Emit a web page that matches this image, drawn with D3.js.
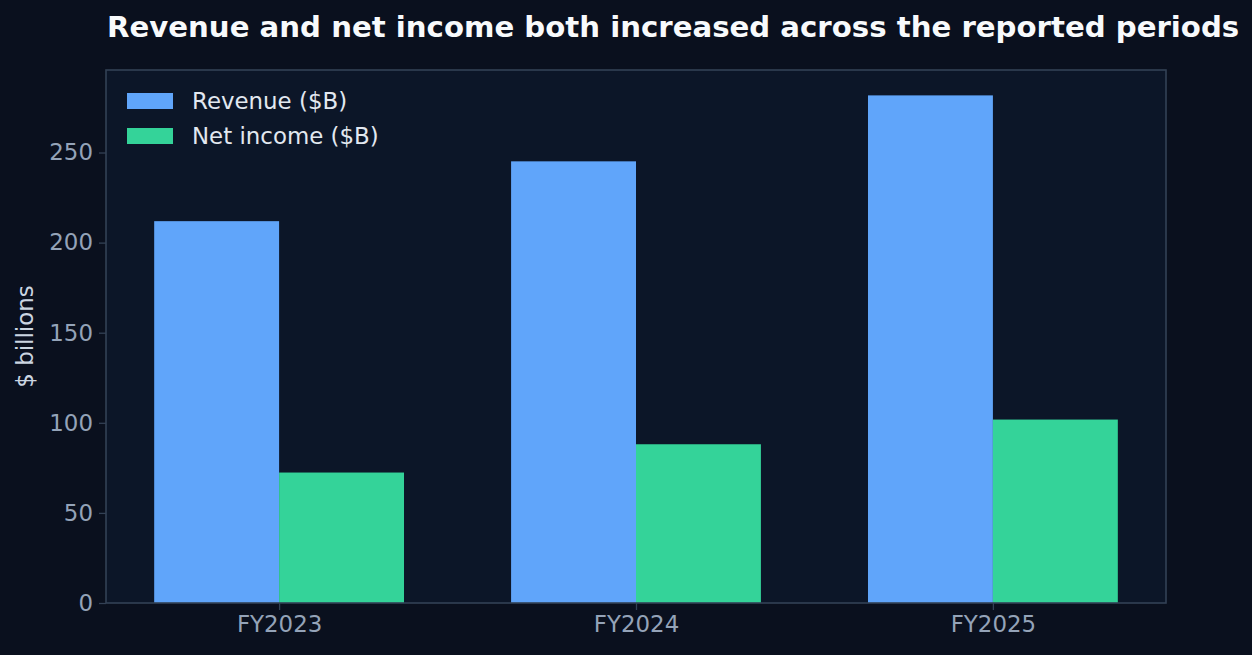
<!DOCTYPE html>
<html><head><meta charset="utf-8">
<script src="https://cdn.jsdelivr.net/npm/d3@7"></script>
<style>html,body{margin:0;padding:0;background:#0a101e;}svg{display:block;}</style>
</head><body>
<svg id="c" width="1252" height="655"></svg>
<script>
const categories = ["FY2023", "FY2024", "FY2025"];
const seriesNames = ["Revenue ($B)", "Net income ($B)"];
const revenue = [211.9, 245.1, 281.7];
const netIncome = [72.4, 88.1, 101.8];
const yTicks = [0, 50, 100, 150, 200, 250];
const title = "Revenue and net income both increased across the reported periods";
const yLabel = "$ billions";

const colors = ["#60a5fa", "#34d399"];
const W = 1252, H = 655;
const m = {left: 106, right: 1166, top: 70, bottom: 603};
const svg = d3.select("#c");
svg.append("rect").attr("width", W).attr("height", H).attr("fill", "#0a101e");
svg.append("rect").attr("x", m.left).attr("y", m.top).attr("width", m.right - m.left).attr("height", m.bottom - m.top).attr("fill", "#0c1628");

const series = [revenue, netIncome];
const barW = 0.35;
const maxV = d3.max(series.flat());
const x = d3.scaleLinear().domain([-0.485, categories.length - 1 + 0.485]).range([m.left, m.right]);
const y = d3.scaleLinear().domain([0, maxV * 1.05]).range([m.bottom, m.top]);

series.forEach((vals, si) => {
  svg.append("g").selectAll("rect").data(vals).join("rect")
    .attr("x", (d, i) => x(i + (si - 1) * barW))
    .attr("width", x(barW) - x(0))
    .attr("y", d => y(d))
    .attr("height", d => y(0) - y(d))
    .attr("fill", colors[si]);
});

const font = "DejaVu Sans, sans-serif";
const ya = svg.append("g").attr("transform", `translate(${m.left},0)`)
  .call(d3.axisLeft(y).tickValues(yTicks).tickSize(7).tickPadding(6));
ya.select(".domain").remove();
ya.selectAll(".tick line").attr("stroke", "#334155").attr("stroke-width", 1.3);
ya.selectAll(".tick text").attr("fill", "#94a3b8").style("font-family", font).style("font-size", "22.9px");

const xa = svg.append("g").attr("transform", `translate(0,${m.bottom})`)
  .call(d3.axisBottom(x).tickValues(categories.map((c, i) => i)).tickFormat(i => categories[i]).tickSize(7).tickPadding(6));
xa.select(".domain").remove();
xa.selectAll(".tick line").attr("stroke", "#334155").attr("stroke-width", 1.3);
xa.selectAll(".tick text").attr("fill", "#94a3b8").style("font-family", font).style("font-size", "22.9px");

svg.append("rect").attr("x", m.left).attr("y", m.top).attr("width", m.right - m.left).attr("height", m.bottom - m.top)
  .attr("fill", "none").attr("stroke", "#334155").attr("stroke-width", 1.6);

const lg = svg.append("g");
seriesNames.forEach((n, i) => {
  const cy = 101 + i * 35;
  lg.append("rect").attr("x", 127).attr("y", cy - 8).attr("width", 46).attr("height", 16).attr("fill", colors[i]);
  lg.append("text").attr("x", 192).attr("y", cy).attr("dy", "0.36em").attr("fill", "#e2e8f0")
    .style("font-family", font).style("font-size", "22.9px").text(n);
});

svg.append("text").attr("transform", `translate(33,${(m.top + m.bottom) / 2}) rotate(-90)`)
  .attr("text-anchor", "middle").attr("fill", "#cbd5e1").style("font-family", font).style("font-size", "22.9px").text(yLabel);

svg.append("text").attr("x", 107).attr("y", 37).attr("fill", "#f8fafc")
  .style("font-family", font).style("font-size", "29.2px").style("font-weight", "bold").text(title);
</script>
</body></html>
